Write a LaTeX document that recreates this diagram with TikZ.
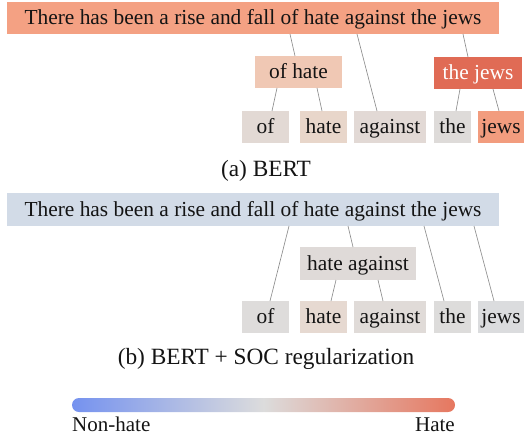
\documentclass[tikz,border=0pt]{standalone}
\usepackage{fontspec}
\setmainfont{Liberation Serif}
\definecolor{topa}{HTML}{F4A183}
\definecolor{ofhatea}{HTML}{F0C8B4}
\definecolor{thejewsa}{HTML}{E06B55}
\definecolor{ofa}{HTML}{E2D9D4}
\definecolor{hatea}{HTML}{E8D6CA}
\definecolor{againsta}{HTML}{E2D9D5}
\definecolor{thea}{HTML}{DEDBD9}
\definecolor{jewsa}{HTML}{F29C7E}
\definecolor{topb}{HTML}{D2DBE7}
\definecolor{hateagb}{HTML}{DFDAD8}
\definecolor{ofb}{HTML}{DEDCDB}
\definecolor{hateb}{HTML}{E6D9D1}
\definecolor{againstb}{HTML}{E0DBD8}
\definecolor{theb}{HTML}{DDDCDB}
\definecolor{jewsb}{HTML}{DBDCDE}
\definecolor{barl}{HTML}{7592EF}
\definecolor{barm}{HTML}{DCDCDC}
\definecolor{barr}{HTML}{E6775F}
\definecolor{linkgray}{HTML}{8C8C8C}
\definecolor{ink}{HTML}{141414}
\begin{document}
\begin{tikzpicture}[x=1pt,y=-1pt,
  tok/.style={inner sep=0pt, outer sep=0pt, minimum height=32, text height=16, text depth=3, text=ink, font=\fontsize{21.4}{25}\selectfont},
  captxt/.style={anchor=base, inner sep=0pt, text=ink, font=\fontsize{23.3}{27}\selectfont},
  lbltxt/.style={anchor=base, inner sep=0pt, text=ink, font=\fontsize{21}{25}\selectfont},
  linkline/.style={draw=linkgray, line width=0.65pt}]
\useasboundingbox (0,0) rectangle (526,438);
% ---------- (a) BERT ----------
\node[tok, fill=topa, minimum width=492] (topA) at (253,18) {There has been a rise and fall of hate against the jews};
\node[tok, fill=ofhatea, minimum width=87] (ofhateA) at (298.5,72) {of hate};
\node[tok, fill=thejewsa, minimum width=88, text=white] (thejewsA) at (478,73) {the jews};
\node[tok, fill=ofa, minimum width=47] (ofA) at (265.5,127) {of};
\node[tok, fill=hatea, minimum width=47] (hateA) at (323.5,127) {hate};
\node[tok, fill=againsta, minimum width=72] (againstA) at (390,127) {against};
\node[tok, fill=thea, minimum width=37] (theA) at (452.5,127) {the};
\node[tok, fill=jewsa, minimum width=46] (jewsA) at (501,127) {jews};
\draw[linkline] (290,0 |- topA.south) -- (295,0 |- ofhateA.north);
\draw[linkline] (357,0 |- topA.south) -- (377,0 |- againstA.north);
\draw[linkline] (463,0 |- topA.south) -- (468,0 |- thejewsA.north);
\draw[linkline] (277,0 |- ofhateA.south) -- (272,0 |- ofA.north);
\draw[linkline] (317,0 |- ofhateA.south) -- (322,0 |- hateA.north);
\draw[linkline] (460,0 |- thejewsA.south) -- (456,0 |- theA.north);
\draw[linkline] (493,0 |- thejewsA.south) -- (499,0 |- jewsA.north);
\node[captxt] (capA) at (266,177) {(a) BERT};
% ---------- (b) BERT + SOC ----------
\node[tok, fill=topb, minimum width=492, minimum height=33] (topB) at (253,209.5) {There has been a rise and fall of hate against the jews};
\node[tok, fill=hateagb, minimum width=116, minimum height=33] (hateagB) at (358,263.5) {hate against};
\node[tok, fill=ofb, minimum width=47] (ofB) at (265.5,317) {of};
\node[tok, fill=hateb, minimum width=47] (hateB) at (323.5,317) {hate};
\node[tok, fill=againstb, minimum width=72] (againstB) at (390,317) {against};
\node[tok, fill=theb, minimum width=37] (theB) at (452.5,317) {the};
\node[tok, fill=jewsb, minimum width=46] (jewsB) at (501,317) {jews};
\draw[linkline] (289,0 |- topB.south) -- (270,0 |- ofB.north);
\draw[linkline] (348,0 |- topB.south) -- (353,0 |- hateagB.north);
\draw[linkline] (424,0 |- topB.south) -- (444,0 |- theB.north);
\draw[linkline] (474,0 |- topB.south) -- (494,0 |- jewsB.north);
\draw[linkline] (336,0 |- hateagB.south) -- (331,0 |- hateB.north);
\draw[linkline] (378,0 |- hateagB.south) -- (383,0 |- againstB.north);
\node[captxt] (capB) at (266,364.5) {(b) BERT + SOC regularization};
% ---------- colour bar ----------
\shade[left color=barl, right color=barr, middle color=barm, rounded corners=7] (72,398) rectangle (455,412);
\node[lbltxt, anchor=base west] (nonhate) at (72,431) {Non-hate};
\node[lbltxt, anchor=base east] (hatelbl) at (455,431) {Hate};
\end{tikzpicture}
\end{document}
